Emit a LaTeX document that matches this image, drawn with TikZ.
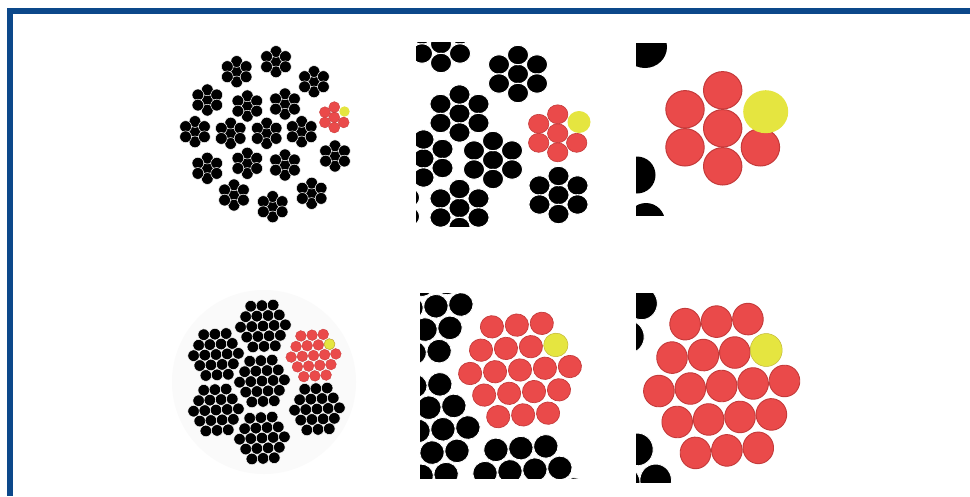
\documentclass[tikz,border=0pt]{standalone}
\definecolor{frameblue}{RGB}{12,72,138}
\definecolor{wred}{RGB}{234,74,74}
\definecolor{wredline}{RGB}{196,58,58}
\definecolor{wyellow}{RGB}{229,229,64}
\definecolor{wyellowline}{RGB}{196,190,60}
\tikzset{
  bw/.style={fill=black,draw=white,line width=0.5pt},
  rw/.style={fill=wred,draw=wredline,line width=0.3pt},
  yw/.style={fill=wyellow},
  ywl/.style={fill=wyellow,draw=wyellowline,line width=0.5pt},
}
% 7-wire strand (1+6), pointy top
\newcommand\sevw[3]{%
  \foreach \ox/\oy in {0/0,0/-1,0/1,-1/-0.5,1/-0.5,-1/0.5,1/0.5}
    {\path[#3] ({#1+\ox*\scx},{#2+\oy*\sdy}) ellipse[x radius=\srx, y radius=\sry];}}
% red 7-wire strand, upper-right wire left out (yellow)
\newcommand\sevred[2]{%
  \foreach \ox/\oy in {0/0,0/-1,0/1,-1/-0.5,-1/0.5,1/0.5}
    {\path[rw] ({#1+\ox*\scx},{#2+\oy*\sdy}) ellipse[x radius=\rrx, y radius=\rry];}}
% 19-wire strand in rows 3-4-5-4-3
\newcommand\ninw[4]{%
  \begin{scope}[shift={(#1,#2)},rotate=#3]
  \foreach \rr/\nn in {-2/3,-1/4,0/5,1/4,2/3}
   {\foreach \kk in {1,...,\nn}
     {\path[#4] ({(\kk-(\nn+1)/2)*\ssx},{\rr*\ssy}) ellipse[x radius=\srx, y radius=\sry];}}
  \end{scope}}
\newcommand\ninred[3]{%
  \begin{scope}[shift={(#1,#2)},rotate=#3]
  \foreach \rr/\nn in {-2/3,-1/4,0/5,1/4,2/3}
   {\foreach \kk in {1,...,\nn}
     {\path[rw] ({(\kk-(\nn+1)/2)*\ssx},{\rr*\ssy}) ellipse[x radius=\rrx, y radius=\rry];}}
  \path[ywl] ({1.5*\ssx},{-\ssy}) ellipse[x radius=\yrx, y radius=\yry];
  \end{scope}}
\begin{document}
\begin{tikzpicture}[x=1pt,y=-1pt]
\useasboundingbox (0,0) rectangle (970,496);
\fill[white] (0,0) rectangle (970,496);
\fill[frameblue] (7,8) rectangle (970,14);
\fill[frameblue] (7,8) rectangle (13,496);

% ---------- panel 1: whole rope, 7-wire strands ----------
\def\scx{9.4}\def\sdy{10.2}\def\srx{5.9}\def\sry{5.9}\def\rrx{5.5}\def\rry{5.5}
\foreach \px/\py in {236.7/71.7, 276/61.7, 314/81.7, 207.3/100, 247.3/106, 285/104,
  195/131.7, 230.7/133.3, 266.7/133.3, 301.7/131.7, 335/156, 207.3/168.3,
  247.3/163.3, 285/165, 234/195, 272.7/206.7, 311.7/193.3}
  {\sevw{\px}{\py}{bw}}
\sevred{334.3}{117.3}
\path[yw] (344.5,111.5) circle[radius=5.2];

% ---------- panel 2: enlarged ----------
\begin{scope}
\clip (416,42) rectangle (600,226);
\def\scx{19}\def\sdy{19}\def\srx{10.6}\def\sry{9.8}\def\rrx{10.2}\def\rry{9.5}
\begin{scope}[bw/.style={fill=black,draw=white,line width=1pt}]
\foreach \px/\py in {441/44, 518/74, 459.5/113.5, 493/160, 423.5/158.5,
  459.5/208, 558.5/195, 390/207}
  {\sevw{\px}{\py}{bw}}
\end{scope}
\begin{scope}[rw/.style={fill=wred,draw=wredline,line width=0.6pt}]
\sevred{557.7}{133.3}
\end{scope}
\path[yw] (579,122) ellipse[x radius=11.5,y radius=11];
\end{scope}

% ---------- panel 3: single strand ----------
\begin{scope}
\clip (636,43) rectangle (800,215);
\fill (645,47) ellipse[x radius=22,y radius=21];
\fill (637,175) circle[radius=18.5];
\fill (646,222) circle[radius=19];
\def\scx{37.7}\def\sdy{38}\def\rrx{19.2}\def\rry{18.7}
\begin{scope}[rw/.style={fill=wred,draw=wredline,line width=1pt}]
\sevred{722.7}{128.3}
\end{scope}
\path[yw] (765.7,111.7) ellipse[x radius=22.5,y radius=21.5];
\end{scope}

% ---------- panel 4: whole rope, 19-wire strands ----------
\fill[black!2] (264,382) circle[radius=92];
\def\ssx{11.2}\def\ssy{10.2}\def\srx{5.8}\def\sry{5.8}\def\rrx{5.4}\def\rry{5.4}
\begin{scope}[bw/.style={fill=black,draw=white,line width=0.5pt}]
\foreach \px/\py in {262/381, 263/326, 216/354.5, 216/410, 317/409, 262/438}
  {\ninw{\px}{\py}{3}{bw}}
\end{scope}
\def\yrx{5.4}\def\yry{5.4}
\ninred{313.5}{355.5}{4}

% ---------- panel 5: enlarged ----------
\begin{scope}
\clip (420,293) rectangle (600,478);
\def\ssx{25}\def\ssy{22.5}\def\srx{12.2}\def\sry{11.8}\def\rrx{11.6}\def\rry{11.2}
\begin{scope}[bw/.style={fill=black,draw=white,line width=0.8pt}]
\foreach \px/\py in {411/308, 418/431, 524/493}
  {\ninw{\px}{\py}{4}{bw}}
\end{scope}
\def\yrx{12.2}\def\yry{11.8}
\begin{scope}[rw/.style={fill=wred,draw=wredline,line width=0.7pt}]
\ninred{520}{370}{4}
\end{scope}
\end{scope}

% ---------- panel 6: single strand ----------
\begin{scope}
\clip (636,293) rectangle (815,482);
\def\ssx{31.5}\def\ssy{32.3}\def\srx{15.8}\def\sry{16.3}\def\rrx{15.3}\def\rry{15.8}
\begin{scope}[bw/.style={fill=black,draw=white,line width=0.8pt}]
\foreach \px/\py in {578.7/308.4, 592.9/485.4}
  {\ninw{\px}{\py}{4.6}{bw}}
\end{scope}
\def\yrx{16}\def\yry{16.5}
\begin{scope}[rw/.style={fill=wred,draw=wredline,line width=0.9pt}]
\ninred{721.7}{386}{4.6}
\end{scope}
\end{scope}
\end{tikzpicture}
\end{document}
